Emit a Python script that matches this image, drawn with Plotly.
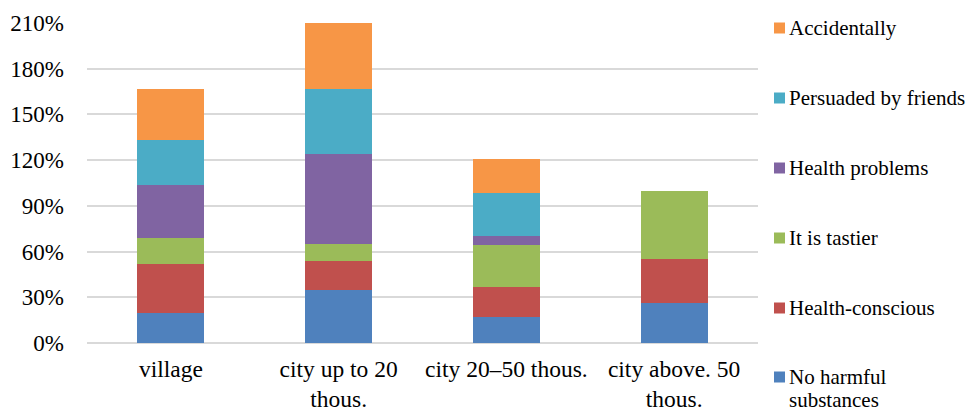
import plotly.graph_objects as go

# Categories (settlement size) and stacked series, bottom to top, in percent
categories = ["village", "city up to 20<br>thous.", "city 20–50 thous.", "city above. 50<br>thous."]

series_names = [
    "No harmful<br>substances",
    "Health-conscious",
    "It is tastier",
    "Health problems",
    "Persuaded by friends",
    "Accidentally",
]
no_harmful = [20, 35, 17, 26]
health_conscious = [32, 19, 19.5, 29]
tastier = [17, 11, 27.5, 44.5]
health_problems = [35, 59, 6, 0]
persuaded = [29, 43, 28.5, 0]
accidentally = [33.5, 43, 22.5, 0]

y_ticks = [0, 30, 60, 90, 120, 150, 180, 210]

colors = ["#4f81bd", "#c0504d", "#9bbb59", "#8064a2", "#4bacc6", "#f79646"]
values = [no_harmful, health_conscious, tastier, health_problems, persuaded, accidentally]

FONT = "'Times New Roman', 'Liberation Serif', Tinos, 'Nimbus Roman', 'DejaVu Serif', serif"

fig = go.Figure()
for name, vals, col in zip(series_names, values, colors):
    fig.add_trace(go.Bar(
        x=categories, y=vals, name=name.replace("<br>", " "),
        marker=dict(color=col, line=dict(width=0)),
        width=0.4, showlegend=False,
    ))

# Plot-area geometry in pixels, used to place the hand-built legend
W, H = 970, 410
L, R, T, B = 87, 212, 23, 67
pw, ph = W - L - R, H - T - B

def px_x(x):
    return (x - L) / pw

def px_y(y):
    return (H - B - y) / ph

# Legend: top item first (reverse of stacking order); each text line placed on its own
legend_centers = [28, 98, 168, 238, 308, 377]
line_step = 23
for i, (name, col) in enumerate(zip(series_names[::-1], colors[::-1])):
    cy = legend_centers[i]
    fig.add_shape(type="rect", xref="paper", yref="paper",
                  x0=px_x(774), x1=px_x(785), y0=px_y(cy + 5.5), y1=px_y(cy - 5.5),
                  fillcolor=col, line=dict(width=0))
    for j, part in enumerate(name.split("<br>")):
        fig.add_annotation(x=px_x(787), y=px_y(cy + j * line_step), xref="paper", yref="paper",
                           text=part, showarrow=False, xanchor="left", yanchor="middle",
                           align="left", font=dict(family=FONT, size=21, color="#000"))

fig.update_layout(
    width=W, height=H,
    margin=dict(l=L, r=R, t=T, b=B, pad=0, autoexpand=False),
    barmode="stack",
    plot_bgcolor="white", paper_bgcolor="white",
    font=dict(family=FONT, size=22, color="#000"),
    bargap=0.6,
)
fig.update_yaxes(
    range=[0, 210], tickvals=y_ticks, ticktext=[f"{v}%" for v in y_ticks],
    showgrid=True, gridcolor="#d9d9d9", gridwidth=1.5,
    zeroline=True, zerolinecolor="#d9d9d9", zerolinewidth=1.5,
    showline=False, ticks="", ticklabelstandoff=22, automargin=False,
    tickfont=dict(family=FONT, size=23, color="#000"),
)
fig.update_xaxes(
    showline=False, showgrid=False, ticks="", ticklabelstandoff=9, automargin=False,
    tickfont=dict(family=FONT, size=23.5, color="#000"),
)

fig.write_html("out.html")
